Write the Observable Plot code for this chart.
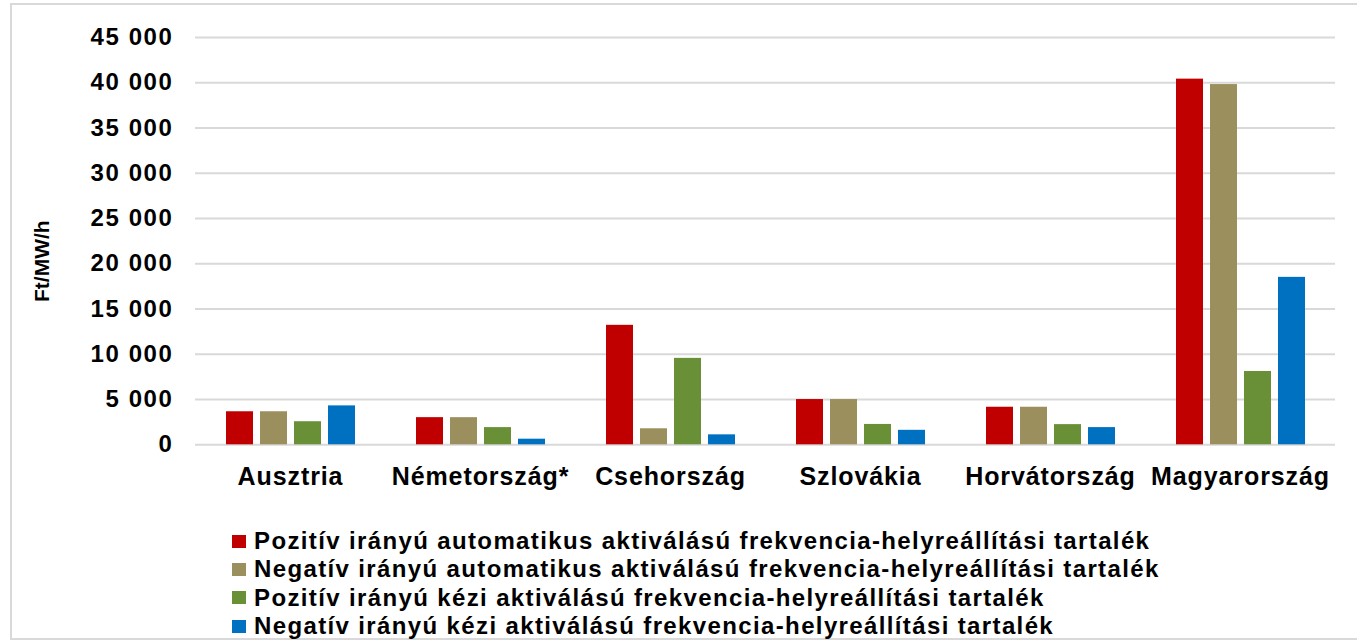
<!DOCTYPE html>
<html><head><meta charset="utf-8">
<script src="https://cdn.jsdelivr.net/npm/d3@7"></script>
<script src="https://cdn.jsdelivr.net/npm/@observablehq/plot@0.6"></script>
<style>
html,body{margin:0;padding:0;background:#fff;width:1357px;height:640px;overflow:hidden;}
#frame{position:absolute;left:10px;top:3px;width:1400px;height:637px;border:2px solid #d9d9d9;box-sizing:border-box;}
#chart{position:absolute;left:0;top:0;}
#legend{position:absolute;left:232px;top:527px;font-family:"Liberation Sans",Arial,sans-serif;font-weight:bold;font-size:24px;color:#000;letter-spacing:1.37px;}
.row{display:flex;align-items:center;height:28.3px;white-space:nowrap;}
.sw{width:14px;height:13px;margin-right:8px;flex:none;}
</style></head><body>
<div id="frame"></div>
<div id="chart"></div>
<div id="legend"></div>
<script>
const countries = ["Ausztria","Németország*","Csehország","Szlovákia","Horvátország","Magyarország"];
const seriesNames = [
  "Pozitív irányú automatikus aktiválású frekvencia-helyreállítási tartalék",
  "Negatív irányú automatikus aktiválású frekvencia-helyreállítási tartalék",
  "Pozitív irányú kézi aktiválású frekvencia-helyreállítási tartalék",
  "Negatív irányú kézi aktiválású frekvencia-helyreállítási tartalék"
];
const seriesColors = ["#C00000","#9C8F5E","#6A9037","#0070C0"];
const posAuto   = [3650, 3000, 13200, 5000, 4150, 40400];
const negAuto   = [3650, 3000, 1770, 5000, 4150, 39800];
const posManual = [2550, 1900, 9550, 2250, 2230, 8100];
const negManual = [4300, 620, 1100, 1600, 1900, 18500];
const yTicks = [0, 5000, 10000, 15000, 20000, 25000, 30000, 35000, 40000, 45000];
const yLabel = "Ft/MW/h";

const seriesValues = [posAuto, negAuto, posManual, negManual];
const data = countries.flatMap((c, i) => seriesNames.map((s, j) => ({country: c, series: s, value: seriesValues[j][i]})));
const fmt = d => d3.format(",")(d).replace(/,/g, " ");

const H = 515;
const plot = Plot.plot({
  width: 1357, height: H,
  marginLeft: 194, marginRight: 21, marginTop: 37, marginBottom: H - 444.3,
  style: {fontFamily: "'Liberation Sans', Arial, sans-serif", background: "transparent", color: "#000"},
  fx: {domain: countries, padding: 0, label: null},
  x: {domain: seriesNames, paddingInner: 0.22, paddingOuter: 0.87, axis: null},
  y: {domain: [0, 45000]},
  color: {domain: seriesNames, range: seriesColors},
  marks: [
    Plot.gridY(yTicks, {stroke: "#d9d9d9", strokeWidth: 2, strokeOpacity: 1}),
    Plot.axisY(yTicks, {tickSize: 0, tickPadding: 22, fontSize: 24, fontWeight: "bold", tickFormat: fmt, label: yLabel, labelAnchor: "center", labelOffset: 161, labelArrow: "none"}),
    Plot.axisFx({anchor: "bottom", tickSize: 0, tickPadding: 22, fontSize: 25, fontWeight: "bold", label: null}),
    Plot.barY(data, {fx: "country", x: "series", y: "value", fill: "series"})
  ]
});
const yl = plot.querySelector('[aria-label="y-axis label"]');
if (yl) {
  yl.setAttribute("font-size", 21);
  const tr = yl.getAttribute("transform") || "";
  yl.setAttribute("transform", ("translate(0,20) " + tr).trim());
}
const yt = plot.querySelector('[aria-label="y-axis tick label"]');
if (yt) yt.setAttribute("letter-spacing", "1.6px");
const fxt = plot.querySelector('[aria-label="fx-axis tick label"]');
if (fxt) fxt.setAttribute("letter-spacing", "0.9px");
document.getElementById("chart").appendChild(plot);

const legend = document.getElementById("legend");
seriesNames.forEach((s, j) => {
  const row = document.createElement("div");
  row.className = "row";
  const sw = document.createElement("span");
  sw.className = "sw";
  sw.style.background = seriesColors[j];
  const t = document.createElement("span");
  t.textContent = s;
  row.appendChild(sw); row.appendChild(t);
  legend.appendChild(row);
});
</script>
</body></html>
